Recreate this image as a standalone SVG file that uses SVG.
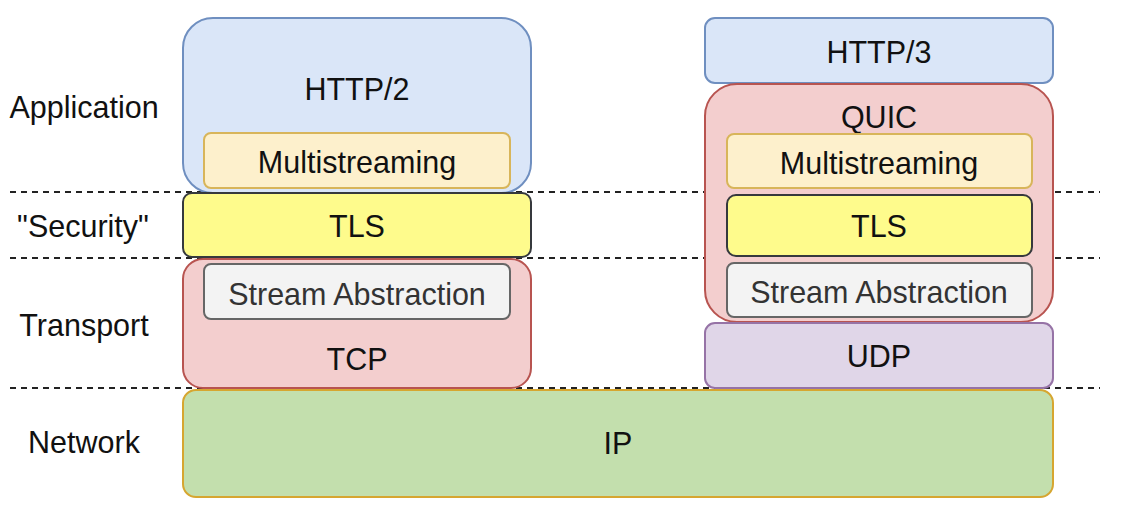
<svg xmlns="http://www.w3.org/2000/svg" width="1126" height="526" viewBox="0 0 1126 526">
<style>
text{font-family:"Liberation Sans",Arial,sans-serif;font-size:30.5px;fill:#111;text-anchor:middle}
.sa{fill:#333}
.blue{fill:#dae6f8;stroke:#6f8fc0;stroke-width:2}
.yel{fill:#fdf0cc;stroke:#d8b55a;stroke-width:2}
.tls{fill:#fefb8c;stroke:#36393d;stroke-width:2}
.red{fill:#f3cece;stroke:#b85450;stroke-width:2}
.gray{fill:#f3f3f3;stroke:#666;stroke-width:2}
.pur{fill:#e0d6e8;stroke:#9673a6;stroke-width:2}
.grn{fill:#c3dfad;stroke:#d6a630;stroke-width:2}
.dash{stroke:#222;stroke-width:2;stroke-dasharray:6 5;fill:none}
</style>
<rect width="1126" height="526" fill="#fff"/>
<g id="layer-lines">
<line class="dash" x1="10" y1="192" x2="1100" y2="192"/>
<line class="dash" x1="10" y1="258" x2="1100" y2="258"/>
<line class="dash" x1="10" y1="388" x2="1100" y2="388"/>
</g>
<g id="labels">
<text x="84" y="118">Application</text>
<text x="83" y="237">"Security"</text>
<text x="84" y="336">Transport</text>
<text x="84" y="453">Network</text>
</g>
<g id="http2"><rect class="blue" x="183" y="18" width="348" height="175" rx="30"/><text x="357" y="100">HTTP/2</text></g>
<g id="ms-left"><rect class="yel" x="204" y="133" width="306" height="55" rx="7"/><text x="357" y="173">Multistreaming</text></g>
<g id="tls-left"><rect class="tls" x="183" y="193" width="348" height="64" rx="9"/><text x="357" y="237">TLS</text></g>
<g id="tcp"><rect class="red" x="183" y="259" width="348" height="129" rx="20"/><text x="357" y="370">TCP</text></g>
<g id="sa-left"><rect class="gray" x="204" y="264" width="306" height="55" rx="7"/><text class="sa" x="357" y="305">Stream Abstraction</text></g>
<g id="http3"><rect class="blue" x="705" y="18" width="348" height="65" rx="10"/><text x="879" y="63">HTTP/3</text></g>
<g id="quic"><rect class="red" x="705" y="84" width="348" height="238" rx="32"/><text x="879" y="128">QUIC</text></g>
<g id="ms-right"><rect class="yel" x="727" y="134" width="305" height="54" rx="7"/><text x="879" y="174">Multistreaming</text></g>
<g id="tls-right"><rect class="tls" x="727" y="195" width="305" height="61" rx="9"/><text x="879" y="237">TLS</text></g>
<g id="sa-right"><rect class="gray" x="727" y="263" width="305" height="54" rx="7"/><text class="sa" x="879" y="303">Stream Abstraction</text></g>
<g id="udp"><rect class="pur" x="705" y="323" width="348" height="65" rx="10"/><text x="879" y="367">UDP</text></g>
<g id="ip"><rect class="grn" x="183" y="390" width="870" height="107" rx="13"/><text x="618" y="454">IP</text></g>
</svg>
